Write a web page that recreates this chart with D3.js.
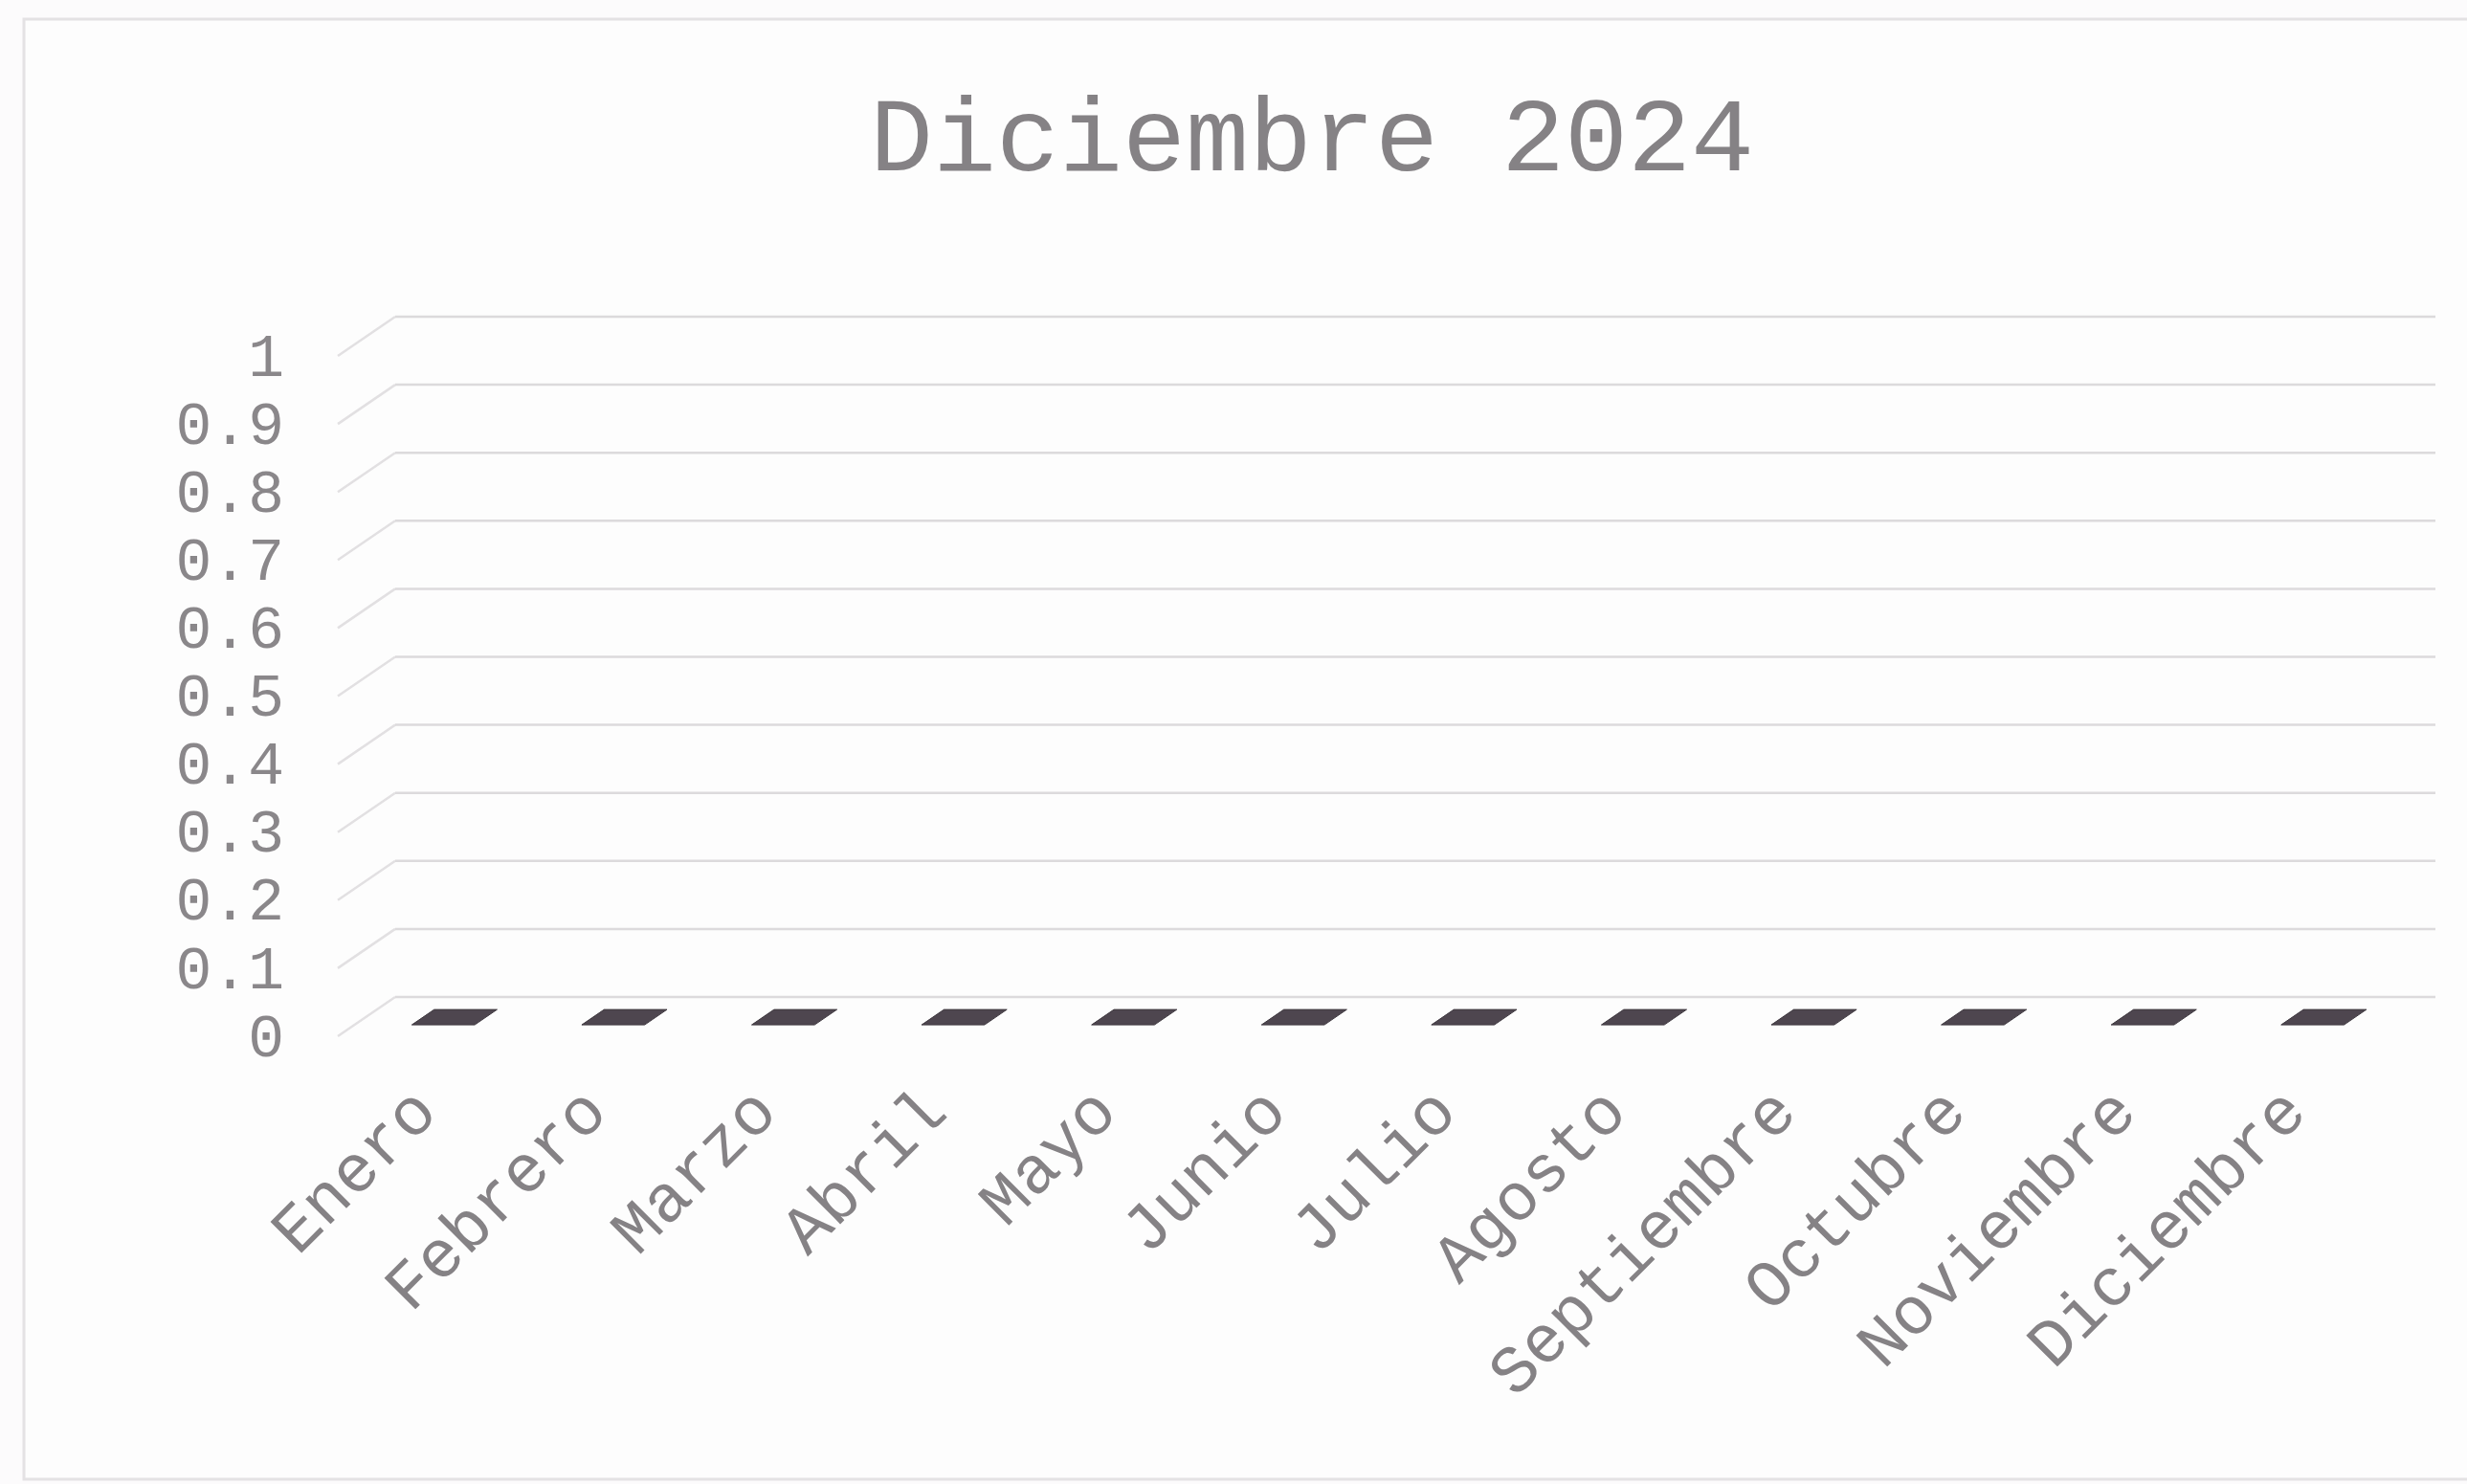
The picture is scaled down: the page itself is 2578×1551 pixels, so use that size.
<!DOCTYPE html>
<html>
<head>
<meta charset="utf-8">
<script src="https://cdn.jsdelivr.net/npm/d3@7"></script>
<style>
    body { margin: 0; background: #fcfbfc; }
    text { font-family: "Courier New", "Liberation Mono", "DejaVu Sans Mono", monospace; }
</style>
</head>
<body>
<svg id="main_svg" width="2578" height="1551"></svg>
<script>
let meses = ["Enero", "Febrero", "Marzo", "Abril", "Mayo", "Junio", "Julio", "Agosto", "Septiembre", "Octubre", "Noviembre", "Diciembre"]
let valores = [0, 0, 0, 0, 0, 0, 0, 0, 0, 0, 0, 0]
let y_ticks = [0, 0.1, 0.2, 0.3, 0.4, 0.5, 0.6, 0.7, 0.8, 0.9, 1]
let y_labels = ["0", "0.1", "0.2", "0.3", "0.4", "0.5", "0.6", "0.7", "0.8", "0.9", "1"]
let titulo = "Diciembre 2024"

const svg = d3.select("#main_svg")
const W = 2578, H = 1551

// fake 3d: front plane -> back wall offset
const depth = {dx: 60, dy: -41}

const x = d3.scaleBand()
    .domain(meses)
    .range([357, 2488])
    .paddingInner(0.63)
    .paddingOuter(0.315)

const y = d3.scaleLinear()
    .domain([0, 1])
    .range([1083, 372])

svg.append("rect")
    .attr("x", 25).attr("y", 20)
    .attr("width", W).attr("height", 1526)
    .attr("fill", "#fdfdfd")
    .attr("stroke", "#e4e2e4")
    .attr("stroke-width", 3)

svg.append("text")
    .attr("x", 1371)
    .attr("y", 178)
    .attr("text-anchor", "middle")
    .attr("font-size", 110)
    .attr("fill", "#858285")
    .text(titulo)

// gridlines: slanted side segment + back wall line
let grid = svg.append("g").attr("id", "grid")
grid.selectAll(".slant")
    .data(y_ticks)
    .join("line")
    .attr("class", "slant")
    .attr("x1", x.range()[0] - 4)
    .attr("y1", d => y(d))
    .attr("x2", x.range()[0] - 4 + depth.dx)
    .attr("y2", d => y(d) + depth.dy)
    .attr("stroke", "#e2e0e2")
    .attr("stroke-width", 2.5)
grid.selectAll(".back")
    .data(y_ticks)
    .join("line")
    .attr("class", "back")
    .attr("x1", x.range()[0] - 4 + depth.dx)
    .attr("y1", d => y(d) + depth.dy)
    .attr("x2", 2545)
    .attr("y2", d => y(d) + depth.dy)
    .attr("stroke", "#dcdadc")
    .attr("stroke-width", 2.5)

// y axis labels
let y_axis = d3.axisLeft(y)
    .tickValues(y_ticks)
    .tickFormat((d, i) => y_labels[i])
    .tickSize(0)
    .tickPadding(0)
svg.append("g")
    .attr("transform", "translate(297,0)")
    .call(y_axis)
    .call(g => g.select(".domain").remove())
    .selectAll("text")
    .attr("font-size", 63)
    .attr("fill", "#8a878a")
    .attr("font-family", null)

// bars: zero height columns, only the top face shows
const f0 = 0.29, f1 = 0.68
function cara(d, i) {
    let x0 = x(d), x1 = x(d) + x.bandwidth()
    let yv = y(valores[i])
    let p = [
        [x0 + f0 * depth.dx, yv + f0 * depth.dy],
        [x1 + f0 * depth.dx, yv + f0 * depth.dy],
        [x1 + f1 * depth.dx, yv + f1 * depth.dy],
        [x0 + f1 * depth.dx, yv + f1 * depth.dy]
    ]
    return "M" + p.map(q => q.join(",")).join("L") + "Z"
}
svg.append("g").selectAll("path")
    .data(meses)
    .join("path")
    .attr("d", cara)
    .attr("fill", "#4e464f")
    .attr("stroke", "#3e383f")
    .attr("stroke-width", 1)

// x labels rotated
svg.append("g").selectAll("text")
    .data(meses)
    .join("text")
    .attr("transform", d => "translate(" + (x(d) + x.bandwidth() / 2 + 14) + ",1165) rotate(-45)")
    .attr("text-anchor", "end")
    .attr("font-size", 70)
    .attr("fill", "#858285")
    .text(d => d)
</script>
</body>
</html>
